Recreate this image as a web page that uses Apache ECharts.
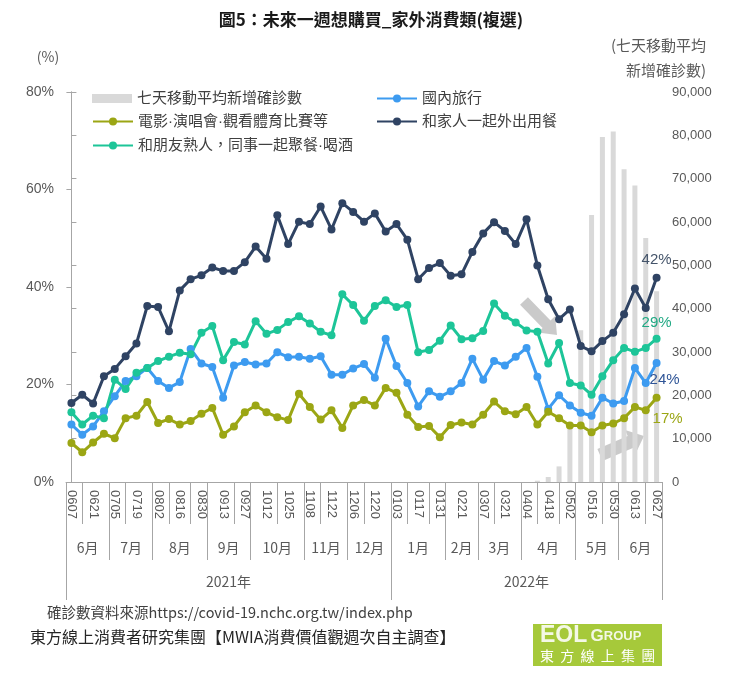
<!DOCTYPE html>
<html><head><meta charset="utf-8">
<script src="https://cdn.jsdelivr.net/npm/echarts@6/dist/echarts.min.js"></script>
<style>html,body{margin:0;padding:0;background:#fff}#c{width:742px;height:677px}</style>
</head><body><div id="c"></div>
<script>
// ---------- data ----------
const weeks = ['0607','0614','0621','0628','0705','0712','0719','0726','0802','0809',
  '0816','0823','0830','0906','0913','0920','0927','1004','1012','1018',
  '1025','1101','1108','1115','1122','1129','1206','1213','1220','1227',
  '0103','0110','0117','0124','0131','0214','0221','0228','0307','0314',
  '0321','0328','0404','0411','0418','0425','0502','0509','0516','0523',
  '0530','0606','0613','0620','0627'];
const cases = [0,0,0,0,0,0,0,0,0,0,
  0,0,0,0,0,0,0,0,0,0,
  0,0,0,0,0,0,0,0,0,0,
  0,0,0,0,0,0,0,0,0,0,
  0,0,0,300,1150,3600,12500,35000,61600,79600,
  80900,72200,68400,56300,44000];
const domesticTravel = [11.8,9.7,11.4,14.5,17.6,20.7,21.7,23.4,20.7,19.3,
  20.5,27.3,24.3,23.6,17.3,23.9,24.6,24.1,24.3,26.6,
  25.6,25.7,25.3,25.8,22.0,22.0,23.3,24.2,21.4,29.4,
  23.8,20.3,15.5,18.6,17.5,18.6,20.3,25.3,21.0,24.8,
  23.9,25.7,27.5,21.6,15.0,17.8,15.7,14.2,13.6,17.3,
  16.1,16.6,23.4,20.3,24.4];
const entertainment = [8.0,6.1,8.1,9.9,9.0,13.1,13.6,16.4,12.1,12.9,
  11.8,12.5,14.0,15.2,9.7,11.4,14.3,15.7,14.3,13.3,
  12.7,18.1,15.4,12.8,14.7,11.1,15.7,16.8,15.7,19.3,
  18.3,13.8,11.3,11.5,9.2,11.7,12.2,11.8,13.8,16.5,
  14.5,13.9,15.4,11.8,14.4,13.1,11.6,11.6,10.2,11.6,
  12.0,13.1,15.4,14.7,17.3];
const familyDining = [16.2,17.9,16.1,21.7,23.2,25.8,28.4,36.1,35.9,30.9,
  39.3,41.6,42.4,44.0,43.3,43.3,45.1,48.3,45.8,54.7,
  48.8,53.4,52.9,56.5,51.8,57.2,55.4,53.4,55.1,51.4,
  52.9,49.7,41.6,43.9,44.9,42.3,42.6,47.2,51.0,53.3,
  51.5,48.8,53.9,44.4,37.5,33.4,35.4,27.9,26.8,28.9,
  30.6,34.4,39.7,35.7,41.9];
const friendsDining = [14.3,11.8,13.6,13.1,21.0,19.1,22.4,23.4,24.8,25.7,
  26.5,26.2,30.6,32.0,25.0,28.7,28.2,33.0,30.4,31.2,
  32.8,34.0,32.5,30.8,30.1,38.5,36.3,33.1,36.1,37.3,
  35.9,36.3,26.6,27.1,29.0,32.1,29.3,29.5,31.0,36.6,
  34.1,32.7,31.1,30.8,24.3,28.5,20.3,19.8,17.9,21.7,
  25.0,27.5,26.7,27.5,29.4];
const monthNames = ['6月','7月','8月','9月','10月','11月','12月','1月','2月','3月','4月','5月','6月'];
const monthStart = [0,4,8,13,17,22,26,30,35,38,42,47,51];
const yearNames = ['2021年','2022年'];
const yearStart = [0,30];
const seriesNames = ['七天移動平均新增確診數','國內旅行','電影·演唱會·觀看體育比賽等','和家人一起外出用餐','和朋友熟人，同事一起聚餐·喝酒'];

// ---------- derived ----------
const n = weeks.length;
function groupCenters(starts){ return starts.map((s,i)=>{ const e=(i+1<starts.length?starts[i+1]:n)-1; return (s+e)/2; }); }
const monthCenters = groupCenters(monthStart);
const monthBounds = monthStart.slice(1).map(s=>s-0.5);
const yearCenters = groupCenters(yearStart);
const yearBounds = [-0.5].concat(yearStart.slice(1).map(s=>s-0.5), [n-0.5]);
const shortTicks = new Set();
for (let i=1;i<n;i+=2){ if(!monthStart.includes(i) && !monthStart.includes(i+1)) shortTicks.add(i); }

const CJK = "'Noto Sans CJK TC','Noto Sans CJK SC',sans-serif";
const LAT = "'Liberation Sans',Arial,sans-serif";
const MIX = "'Liberation Sans','Noto Sans CJK TC',sans-serif";
const AX = '#a6a6a6', TXT = '#595959';
const colors = {bar:'#d9d9d9', blue:'#3D9BF0', olive:'#9BA614', navy:'#2F4363', teal:'#1DC598'};

function withEndLabel(arr, lab){
  return arr.map((v,i)=> i===arr.length-1 ? {value:v, label:Object.assign({show:true, fontSize:15, fontFamily:LAT, formatter:p=>Math.round(p.value)+'%'}, lab)} : v);
}
function lineSeries(name, data, color, lab){
  return {name, type:'line', data:withEndLabel(data, lab), symbol:'circle', symbolSize:8, showAllSymbol:true,
    lineStyle:{width:3, color}, itemStyle:{color}, emphasis:{disabled:true}};
}
function arrowPts(x1,y1,x2,y2,w,hw,hl){
  const dx=x2-x1, dy=y2-y1, L=Math.hypot(dx,dy), ux=dx/L, uy=dy/L, px=-uy, py=ux;
  const bx=x2-ux*hl, by=y2-uy*hl;
  return [[x1+px*w/2,y1+py*w/2],[bx+px*w/2,by+py*w/2],[bx+px*hw/2,by+py*hw/2],[x2,y2],
          [bx-px*hw/2,by-py*hw/2],[bx-px*w/2,by-py*w/2],[x1-px*w/2,y1-py*w/2]];
}
function txt(text, x, y, font, fill, align){
  return {type:'text', x, y, silent:true, style:{text, font, fill, align:align||'center', verticalAlign:'middle', textAlign:align||'center', textVerticalAlign:'middle'}};
}
function legendAt(name, left, cy, extra){
  return Object.assign({data:[name], left, top:cy-9, padding:0, itemWidth:40, itemHeight:10,
    selectedMode:false, textStyle:{fontSize:15, color:'#404040', fontFamily:MIX}}, extra||{});
}

const option = {
  animation:false,
  textStyle:{fontFamily:CJK},
  grid:{left:66, right:80, top:92, bottom:195, containLabel:false, outerBoundsMode:'none'},
  legend:[
    legendAt(seriesNames[0], 92, 100, {icon:'rect', itemHeight:9}),
    legendAt(seriesNames[1], 376, 100),
    legendAt(seriesNames[2], 92, 123),
    legendAt(seriesNames[3], 376, 123),
    legendAt(seriesNames[4], 92, 147)
  ],
  xAxis:[
    {type:'category', data:weeks, position:'bottom', boundaryGap:true,
     axisLine:{lineStyle:{color:AX}},
     axisTick:{show:true, alignWithLabel:true, interval:(i)=>shortTicks.has(i), length:42, lineStyle:{color:AX}},
     axisLabel:{interval:1, rotate:-90, margin:8, fontSize:13, color:TXT, fontFamily:LAT},
     splitLine:{show:false}},
    {type:'value', min:-0.5, max:n-0.5, position:'bottom', offset:0,
     axisLine:{show:false}, splitLine:{show:false},
     axisTick:{show:true, customValues:monthBounds, length:78, lineStyle:{color:AX}},
     axisLabel:{customValues:monthCenters, formatter:v=>monthNames[monthCenters.indexOf(v)], margin:59, fontSize:14, color:TXT, fontFamily:CJK}},
    {type:'value', min:-0.5, max:n-0.5, position:'bottom', offset:0,
     axisLine:{show:false}, splitLine:{show:false},
     axisTick:{show:true, customValues:yearBounds, length:118, lineStyle:{color:AX}},
     axisLabel:{customValues:yearCenters, formatter:v=>yearNames[yearCenters.indexOf(v)], margin:93, fontSize:14, color:TXT, fontFamily:CJK}}
  ],
  yAxis:[
    {type:'value', min:0, max:80, interval:20, position:'left',
     axisLine:{show:true, lineStyle:{color:AX}}, axisTick:{show:true, length:5, lineStyle:{color:AX}},
     splitLine:{show:false},
     axisLabel:{formatter:'{value}%', fontSize:14, color:TXT, margin:12, fontFamily:LAT}},
    {type:'value', min:0, max:90000, interval:10000, position:'right',
     axisLine:{show:true, lineStyle:{color:AX}}, axisTick:{show:true, length:5, lineStyle:{color:AX}},
     splitLine:{show:false},
     axisLabel:{formatter:v=>v.toLocaleString('en-US'), fontSize:13, color:TXT, margin:10, fontFamily:LAT}}
  ],
  series:[
    {name:seriesNames[0], type:'bar', yAxisIndex:1, data:cases, barWidth:5, itemStyle:{color:colors.bar}, emphasis:{disabled:true}},
    lineSeries(seriesNames[1], domesticTravel, colors.blue, {position:'bottom', offset:[8,0], color:'#2F5597'}),
    lineSeries(seriesNames[2], entertainment, colors.olive, {position:'bottom', offset:[11,5], color:colors.olive}),
    lineSeries(seriesNames[3], familyDining, colors.navy, {position:'top', distance:6, color:'#44546A'}),
    lineSeries(seriesNames[4], friendsDining, colors.teal, {position:'top', distance:4, color:'#21A984'})
  ],
  graphic:[
    txt('圖5：未來一週想購買_家外消費類(複選)', 371, 20, "bold 17px "+CJK, '#1a1a1a'),
    txt('(%)', 48, 57, "14px "+CJK, TXT),
    txt('(七天移動平均', 706, 45, "15px "+CJK, TXT, 'right'),
    txt('新增確診數)', 706, 70, "15px "+CJK, TXT, 'right'),
    txt('確診數資料來源https://covid-19.nchc.org.tw/index.php', 47, 612, "14.5px "+CJK, '#404040', 'left'),
    txt('東方線上消費者研究集團【MWIA消費價值觀週次自主調查】', 30, 637, "16px "+CJK, '#262626', 'left'),
    {type:'rect', shape:{x:533, y:624, width:129, height:42}, style:{fill:'#A6C93A'}, silent:true},
    {type:'text', x:540, y:636, silent:true, style:{text:'{a|EOL} {b|G}{c|ROUP}', verticalAlign:'middle', textVerticalAlign:'middle',
      rich:{a:{font:"bold 23px "+LAT, fill:'#f4f8e6'}, b:{font:"bold 17px "+LAT, fill:'#f4f8e6'}, c:{font:"bold 13px "+LAT, fill:'#f4f8e6'}}}},
    txt('東  方  線  上  集  團', 540, 656, "14px "+CJK, '#ffffff', 'left'),
    {type:'polygon', silent:true, shape:{points:arrowPts(524,301,557,335,11,24,15)}, style:{fill:'#c4c4c4', opacity:0.9}},
    {type:'polygon', silent:true, shape:{points:arrowPts(600,455,644,436,13,26,15)}, style:{fill:'#c4c4c4', opacity:0.9}}
  ]
};
const chart = echarts.init(document.getElementById('c'), null, {renderer:'canvas'});
chart.setOption(option);
</script>
</body></html>
